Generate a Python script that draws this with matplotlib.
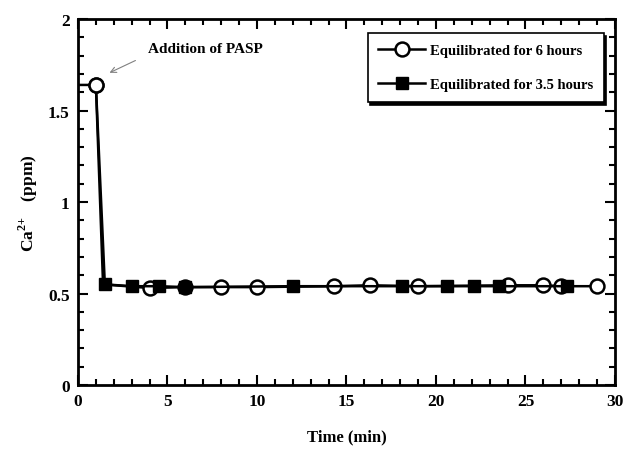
import matplotlib.pyplot as plt
from matplotlib.ticker import MultipleLocator

plt.rcParams['font.family'] = ['Liberation Serif', 'DejaVu Serif']
plt.rcParams['font.weight'] = 'bold'
plt.rcParams['mathtext.fontset'] = 'custom'
plt.rcParams['mathtext.rm'] = 'Liberation Serif:bold'
plt.rcParams['mathtext.bf'] = 'Liberation Serif:bold'

# Equilibrated for 6 hours (open circles); first point is the baseline before addition
t6 = [0, 1.0, 1.4, 4.0, 6.0, 8.0, 10.0, 14.3, 16.3, 19.0, 24.0, 26.0, 27.0, 29.0]
ca6 = [1.64, 1.64, 0.55, 0.53, 0.535, 0.535, 0.535, 0.54, 0.545, 0.54, 0.545, 0.545, 0.54, 0.54]
mark6 = [1, 3, 4, 5, 6, 7, 8, 9, 10, 11, 12, 13]

# Equilibrated for 3.5 hours (filled squares)
t35 = [1.0, 1.5, 3.0, 4.5, 6.0, 12.0, 18.1, 20.6, 22.1, 23.5, 27.3]
ca35 = [1.64, 0.55, 0.54, 0.54, 0.535, 0.54, 0.54, 0.54, 0.54, 0.54, 0.54]
mark35 = [1, 2, 3, 4, 5, 6, 7, 8, 9, 10]

fig = plt.figure(figsize=(6.31, 4.56), dpi=100)
ax = fig.add_axes([0.1236, 0.1535, 0.851, 0.8025])

l6, = ax.plot(t6, ca6, color='black', lw=1.8, marker='o', ms=10, mfc='white',
              mec='black', mew=1.8, markevery=mark6,
              label='Equilibrated for 6 hours', zorder=2)
l35, = ax.plot(t35, ca35, color='black', lw=1.8, marker='s', ms=8.5,
               mfc='black', mec='black', markevery=mark35,
               label='Equilibrated for 3.5 hours', zorder=3)
# the first circle after addition sits on top of everything
ax.plot(t6[1], ca6[1], marker='o', ms=10, mfc='white', mec='black', mew=1.8,
        ls='none', zorder=4)

ax.set_xlim(0, 30)
ax.set_ylim(0, 2)
ax.xaxis.set_major_locator(MultipleLocator(5))
ax.xaxis.set_minor_locator(MultipleLocator(1))
ax.yaxis.set_minor_locator(MultipleLocator(0.1))
ax.set_yticks([0, 0.5, 1, 1.5, 2])
ax.set_yticklabels(['0', '0.5', '1', '1.5', '2'])
ax.tick_params(which='both', direction='in', top=True, right=True, width=1.5,
               labelsize=12.5, pad=6)
ax.tick_params(which='major', length=7)
ax.tick_params(which='minor', length=4)
for s in ax.spines.values():
    s.set_linewidth(2)

ax.set_xlabel('Time (min)', fontsize=12, fontweight='bold', labelpad=14)
ax.set_ylabel('Ca$^{2\\!+}$   (ppm)', fontsize=12.5, fontweight='bold', labelpad=6)

ax.text(3.9, 1.82, 'Addition of PASP', fontsize=11, fontweight='bold')
ax.annotate('', xy=(1.62, 1.70), xytext=(3.35, 1.78),
            arrowprops=dict(arrowstyle='->', color='gray', lw=0.8))

leg = ax.legend([l6, l35], [l6.get_label(), l35.get_label()], loc='upper right',
                fontsize=10.5, frameon=True, fancybox=False,
                shadow={'color': 'black', 'alpha': 1},
                edgecolor='black', borderpad=0.75, labelspacing=1.45,
                handlelength=3.2, handletextpad=0.3, borderaxespad=0,
                bbox_to_anchor=(0.979, 0.962))
leg.get_frame().set_linewidth(1.2)

fig.savefig('out.png', dpi=100)
